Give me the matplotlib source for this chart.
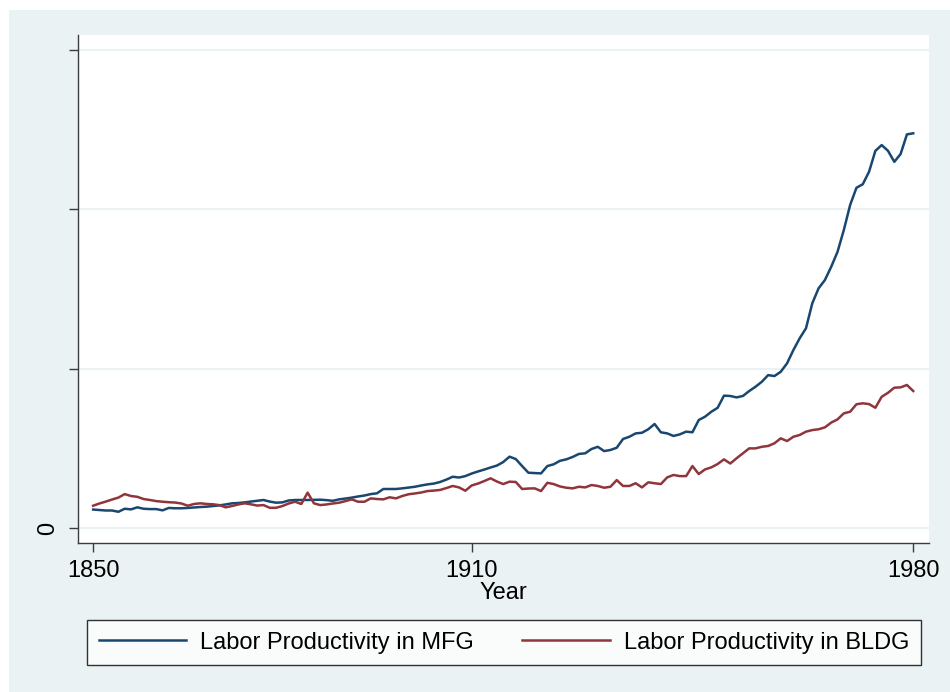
import matplotlib
matplotlib.use("Agg")
import matplotlib.pyplot as plt
from matplotlib.patches import Rectangle
import numpy as np

plt.rcParams['font.family'] = ['Liberation Sans', 'DejaVu Sans']

years = np.arange(1850, 1981)

# labor productivity in manufacturing (units: one y tick step)
mfg = [0.116, 0.113, 0.110, 0.110, 0.102, 0.121, 0.117, 0.130, 0.121, 0.119,
       0.119, 0.111, 0.126, 0.124, 0.124, 0.126, 0.129, 0.132, 0.134, 0.138,
       0.142, 0.148, 0.155, 0.157, 0.161, 0.166, 0.171, 0.176, 0.166, 0.159,
       0.161, 0.173, 0.176, 0.176, 0.176, 0.177, 0.178, 0.175, 0.171, 0.180,
       0.185, 0.191, 0.198, 0.204, 0.213, 0.218, 0.245, 0.245, 0.245, 0.249,
       0.254, 0.259, 0.267, 0.274, 0.279, 0.289, 0.304, 0.322, 0.317, 0.326,
       0.342, 0.355, 0.367, 0.380, 0.392, 0.414, 0.448, 0.433, 0.389, 0.347,
       0.345, 0.343, 0.389, 0.400, 0.422, 0.431, 0.446, 0.465, 0.469, 0.496,
       0.510, 0.483, 0.490, 0.504, 0.559, 0.573, 0.594, 0.598, 0.620, 0.653,
       0.601, 0.594, 0.578, 0.588, 0.605, 0.601, 0.678, 0.699, 0.730, 0.755,
       0.831, 0.829, 0.820, 0.829, 0.860, 0.887, 0.918, 0.960, 0.954, 0.981,
       1.034, 1.117, 1.191, 1.254, 1.411, 1.505, 1.557, 1.640, 1.734, 1.871,
       2.028, 2.136, 2.158, 2.237, 2.368, 2.404, 2.368, 2.299, 2.348, 2.471,
       2.478]

# labor productivity in building
bldg = [0.140, 0.154, 0.166, 0.179, 0.191, 0.213, 0.201, 0.196, 0.182, 0.176,
        0.169, 0.165, 0.162, 0.160, 0.154, 0.140, 0.151, 0.155, 0.151, 0.149,
        0.144, 0.130, 0.138, 0.148, 0.155, 0.149, 0.141, 0.144, 0.127, 0.127,
        0.138, 0.154, 0.165, 0.151, 0.222, 0.155, 0.144, 0.148, 0.154, 0.159,
        0.169, 0.180, 0.165, 0.165, 0.186, 0.182, 0.180, 0.193, 0.186, 0.201,
        0.212, 0.217, 0.223, 0.232, 0.235, 0.239, 0.251, 0.264, 0.255, 0.234,
        0.267, 0.279, 0.295, 0.312, 0.292, 0.276, 0.291, 0.289, 0.245, 0.248,
        0.249, 0.232, 0.284, 0.276, 0.261, 0.253, 0.249, 0.259, 0.255, 0.270,
        0.264, 0.253, 0.259, 0.301, 0.264, 0.264, 0.281, 0.255, 0.287, 0.281,
        0.276, 0.318, 0.333, 0.326, 0.326, 0.389, 0.339, 0.368, 0.381, 0.402,
        0.431, 0.405, 0.438, 0.469, 0.500, 0.500, 0.510, 0.515, 0.532, 0.563,
        0.546, 0.573, 0.584, 0.605, 0.615, 0.620, 0.632, 0.662, 0.682, 0.720,
        0.730, 0.777, 0.783, 0.778, 0.755, 0.824, 0.849, 0.881, 0.883, 0.898,
        0.860]

ytick_vals = [0, 1, 2, 3]
ytick_labels = ['0', '', '', '']
xtick_vals = [1850, 1910, 1980]

bg = '#eaf2f3'
fig = plt.figure(figsize=(9.5, 6.92), dpi=100, facecolor='white')
fig.patches.append(Rectangle((9/950, 0), 1, 1 - 10/692, transform=fig.transFigure,
                             facecolor=bg, edgecolor='none', zorder=-10))

ax = fig.add_axes([78/950, 1 - 543/692, 851/950, 508/692])
ax.set_facecolor('white')
ax.plot(years, mfg, color='#1a476f', lw=1.8, label='Labor Productivity in MFG')
ax.plot(years, bldg, color='#90353b', lw=1.8, label='Labor Productivity in BLDG')

ax.set_xlim(1847.6, 1982.5)
ax.set_ylim(-0.094, 3.095)
ax.set_yticks(ytick_vals)
ax.set_yticklabels(ytick_labels, rotation=90, va='center')
ax.set_xticks(xtick_vals)
ax.grid(axis='y', color=bg, lw=1.5)
ax.set_axisbelow(True)

for s in ['top', 'right']:
    ax.spines[s].set_visible(False)
for s in ['left', 'bottom']:
    ax.spines[s].set_color('#3c3c3c')
    ax.spines[s].set_linewidth(1.0)

ax.tick_params(axis='both', direction='out', length=6.5, width=1.0, color='#3c3c3c',
               labelsize=17, labelcolor='black')
ax.tick_params(axis='y', pad=7)
ax.tick_params(axis='x', pad=6)
ax.set_xlabel('Year', fontsize=17, labelpad=0)

handles, labels = ax.get_legend_handles_labels()
leg = fig.legend(handles, labels, loc='center',
                 bbox_to_anchor=(87/950, 1 - 665/692, 834/950, 45/692),
                 mode='expand', ncol=2, fontsize=17, frameon=True, fancybox=False,
                 edgecolor='black', handlelength=3.7, handletextpad=0.6,
                 columnspacing=1.5, borderpad=0.5, borderaxespad=0)
leg.get_frame().set_linewidth(1.0)
leg.get_frame().set_facecolor('white')

fig.savefig('out.png', dpi=100, facecolor=fig.get_facecolor())
